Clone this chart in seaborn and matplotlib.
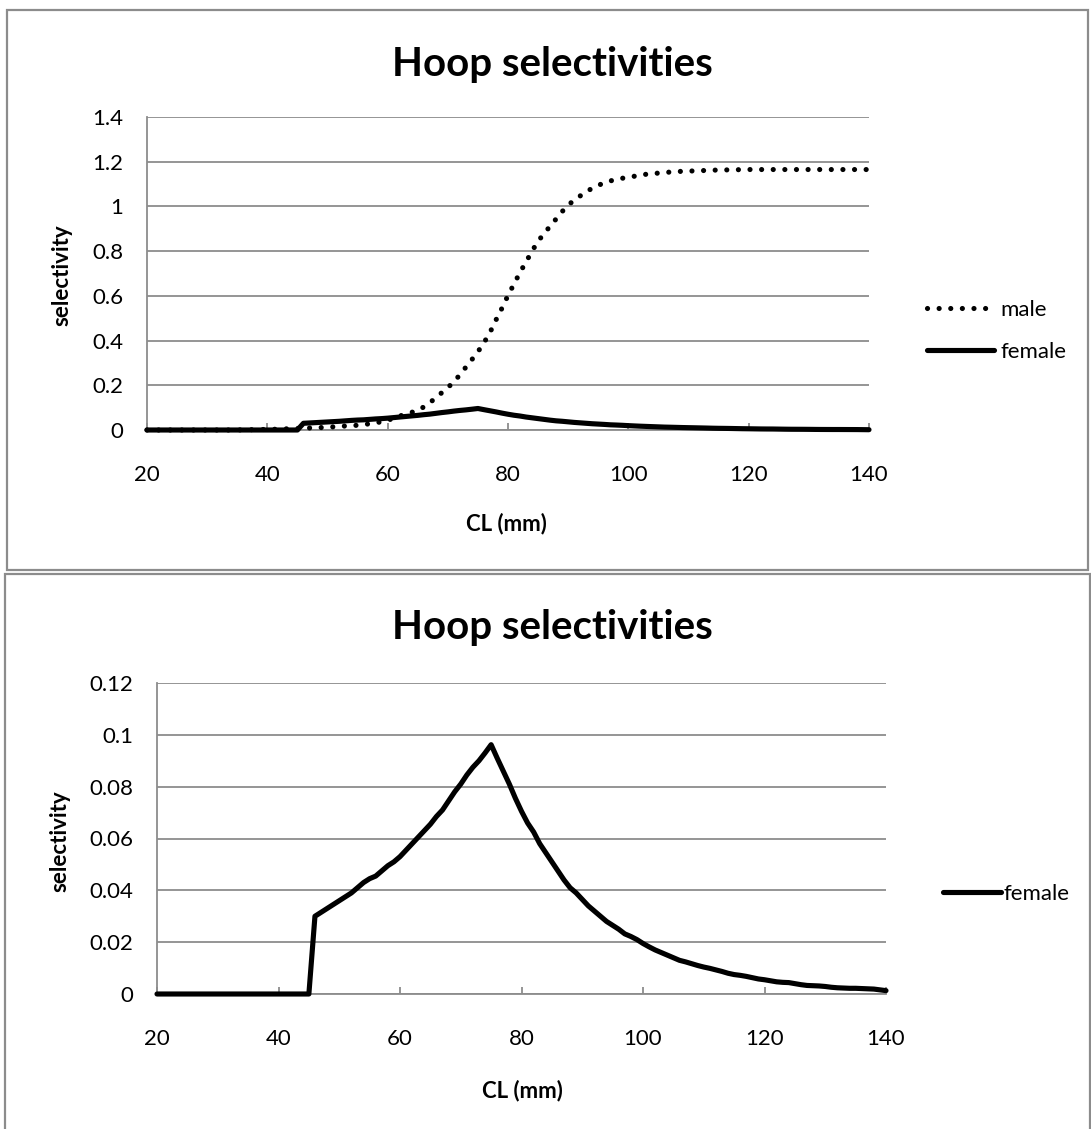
import matplotlib
matplotlib.use("Agg")
import matplotlib.pyplot as plt
from matplotlib.patches import Rectangle
import seaborn as sns

# Carapace length classes (mm)
cl_mm = list(range(20, 141))

# Hoop-net selectivity by carapace length, 20..140 mm
male = [
    0.000, 0.000, 0.000, 0.000, 0.000, 0.000, 0.000, 0.000, 0.000, 0.000,
    0.000, 0.000, 0.000, 0.000, 0.000, 0.000, 0.001, 0.001, 0.002, 0.002,
    0.003, 0.003, 0.004, 0.005, 0.006, 0.007, 0.008, 0.009, 0.010, 0.011,
    0.013, 0.014, 0.016, 0.018, 0.020, 0.021, 0.024, 0.028, 0.032, 0.037,
    0.044, 0.052, 0.062, 0.072, 0.079, 0.088, 0.103, 0.122, 0.144, 0.167,
    0.190, 0.215, 0.247, 0.281, 0.315, 0.350, 0.390, 0.436, 0.492, 0.545,
    0.602, 0.653, 0.705, 0.752, 0.800, 0.845, 0.878, 0.912, 0.944, 0.977,
    1.006, 1.028, 1.047, 1.066, 1.081, 1.094, 1.106, 1.114, 1.121, 1.126,
    1.130, 1.135, 1.140, 1.144, 1.147, 1.149, 1.151, 1.154, 1.156, 1.157,
    1.158, 1.159, 1.160, 1.161, 1.162, 1.163, 1.163, 1.164, 1.164, 1.165,
    1.165, 1.165, 1.165, 1.165, 1.165, 1.165, 1.165, 1.165, 1.165, 1.165,
    1.165, 1.165, 1.165, 1.165, 1.165, 1.165, 1.165, 1.165, 1.165, 1.165,
    1.165,
]

female = [
    0.0, 0.0, 0.0, 0.0, 0.0, 0.0, 0.0, 0.0, 0.0, 0.0,
    0.0, 0.0, 0.0, 0.0, 0.0, 0.0, 0.0, 0.0, 0.0, 0.0,
    0.0, 0.0, 0.0, 0.0, 0.0, 0.0, 0.0300, 0.0315, 0.0330, 0.0345,
    0.0360, 0.0375, 0.0390, 0.0410, 0.0430, 0.0445, 0.0455, 0.0475, 0.0495, 0.0510,
    0.0530, 0.0555, 0.0580, 0.0605, 0.0630, 0.0655, 0.0685, 0.0710, 0.0745, 0.0780,
    0.0810, 0.0845, 0.0875, 0.0900, 0.0930, 0.0962, 0.0910, 0.0860, 0.0810, 0.0755,
    0.0705, 0.0660, 0.0625, 0.0580, 0.0545, 0.0510, 0.0475, 0.0440, 0.0410, 0.0390,
    0.0365, 0.0340, 0.0320, 0.0300, 0.0280, 0.0265, 0.0250, 0.0232, 0.0222, 0.0210,
    0.0195, 0.0182, 0.0170, 0.0160, 0.0150, 0.0140, 0.0130, 0.0124, 0.0117, 0.0110,
    0.0104, 0.0099, 0.0093, 0.0087, 0.0080, 0.0075, 0.0072, 0.0068, 0.0063, 0.0058,
    0.0055, 0.0051, 0.0047, 0.0045, 0.0044, 0.0040, 0.0036, 0.0033, 0.0032, 0.0031,
    0.0029, 0.0026, 0.0024, 0.0023, 0.0022, 0.0022, 0.0021, 0.0020, 0.0019, 0.0016,
    0.0013,
]

x_ticks = [20, 40, 60, 80, 100, 120, 140]
top_yticks = [0, 0.2, 0.4, 0.6, 0.8, 1.0, 1.2, 1.4]
top_ylabels = ["0", "0.2", "0.4", "0.6", "0.8", "1", "1.2", "1.4"]
bottom_yticks = [0, 0.02, 0.04, 0.06, 0.08, 0.10, 0.12]
bottom_ylabels = ["0", "0.02", "0.04", "0.06", "0.08", "0.1", "0.12"]

title_text = "Hoop selectivities"
xlabel_text = "CL (mm)"
ylabel_text = "selectivity"

sns.set_theme(style="white")
plt.rcParams["font.family"] = ["Lato", "DejaVu Sans"]
plt.rcParams["text.color"] = "black"
plt.rcParams["legend.labelcolor"] = "black"

W, H = 1091, 1129
fig = plt.figure(figsize=(W / 100, H / 100), dpi=100)
fig.patch.set_facecolor("white")


def fx(px):
    return px / W


def fy(py):
    return 1 - py / H


GRID = "#8c8c8c"
LW = 3.7
DOTTED = (0, (0.01, 2.25))
TICK_FS = 16
LEG_FS = 16
TITLE_FS = 29
AXLABEL_FS = 16


def chart_frame(x0, y0, x1, y1):
    fig.add_artist(Rectangle((fx(x0), fy(y1)), fx(x1) - fx(x0), fy(y0) - fy(y1),
                             transform=fig.transFigure, fill=False,
                             edgecolor=GRID, linewidth=1.6))


def make_axes(left, top, right, bottom):
    return fig.add_axes([fx(left), fy(bottom), fx(right) - fx(left), fy(top) - fy(bottom)])


def style_axes(ax, yticks, ylabels):
    ax.set_xlim(20, 140)
    ax.set_ylim(yticks[0], yticks[-1])
    ax.set_xticks(x_ticks)
    ax.set_xticklabels([str(t) for t in x_ticks])
    ax.set_yticks(yticks)
    ax.set_yticklabels(ylabels)
    ax.grid(axis="y", color=GRID, linewidth=1.3)
    ax.grid(axis="x", visible=False)
    ax.set_axisbelow(True)
    for s in ["top", "right"]:
        ax.spines[s].set_visible(False)
    for s in ["left", "bottom"]:
        ax.spines[s].set_color(GRID)
        ax.spines[s].set_linewidth(1.3)
        ax.spines[s].set_zorder(1.5)
    ax.tick_params(axis="x", bottom=True, direction="in", length=5, width=1.3,
                   color=GRID, pad=25, labelsize=TICK_FS, labelcolor="black")
    ax.tick_params(axis="y", left=False, length=0, pad=17, labelsize=TICK_FS,
                   labelcolor="black")
    ax.set_xlabel("")
    ax.set_ylabel("")
    ax.set_facecolor("white")


# ---- upper chart: male and female ----
chart_frame(7, 10, 1088, 570)
ax1 = make_axes(147, 117, 869, 430)
sns.lineplot(x=cl_mm, y=male, ax=ax1, color="black", linewidth=LW,
             linestyle=DOTTED, dash_capstyle="round", label="male",
             clip_on=False, zorder=3)
sns.lineplot(x=cl_mm, y=female, ax=ax1, color="black", linewidth=LW,
             solid_capstyle="round", label="female", clip_on=False, zorder=4)
style_axes(ax1, top_yticks, top_ylabels)
ax1.legend(loc="center left", bbox_to_anchor=(fx(927), fy(331)),
           bbox_transform=fig.transFigure, frameon=False, fontsize=LEG_FS,
           handlelength=3.0, handletextpad=0.3, labelspacing=1.0,
           borderpad=0, borderaxespad=0)

fig.text(fx(552), fy(76), title_text, ha="center", va="baseline",
         fontsize=TITLE_FS, fontweight="bold")
fig.text(fx(62), fy(275), ylabel_text, rotation=90, ha="center", va="center",
         fontsize=AXLABEL_FS, fontweight="bold")
fig.text(fx(506), fy(524), xlabel_text, ha="center", va="center",
         fontsize=AXLABEL_FS, fontweight="bold")

# ---- lower chart: female only ----
chart_frame(5, 574, 1090, 1140)
ax2 = make_axes(157, 683, 886, 994)
sns.lineplot(x=cl_mm, y=female, ax=ax2, color="black", linewidth=LW,
             solid_capstyle="round", label="female", clip_on=False, zorder=4)
style_axes(ax2, bottom_yticks, bottom_ylabels)
ax2.legend(loc="center left", bbox_to_anchor=(fx(943), fy(894)),
           bbox_transform=fig.transFigure, frameon=False, fontsize=LEG_FS,
           handlelength=2.6, handletextpad=0.1, borderpad=0, borderaxespad=0)

fig.text(fx(552), fy(639), title_text, ha="center", va="baseline",
         fontsize=TITLE_FS, fontweight="bold")
fig.text(fx(60), fy(841), ylabel_text, rotation=90, ha="center", va="center",
         fontsize=AXLABEL_FS, fontweight="bold")
fig.text(fx(522), fy(1091), xlabel_text, ha="center", va="center",
         fontsize=AXLABEL_FS, fontweight="bold")

fig.savefig("out.png", dpi=100, facecolor="white")
